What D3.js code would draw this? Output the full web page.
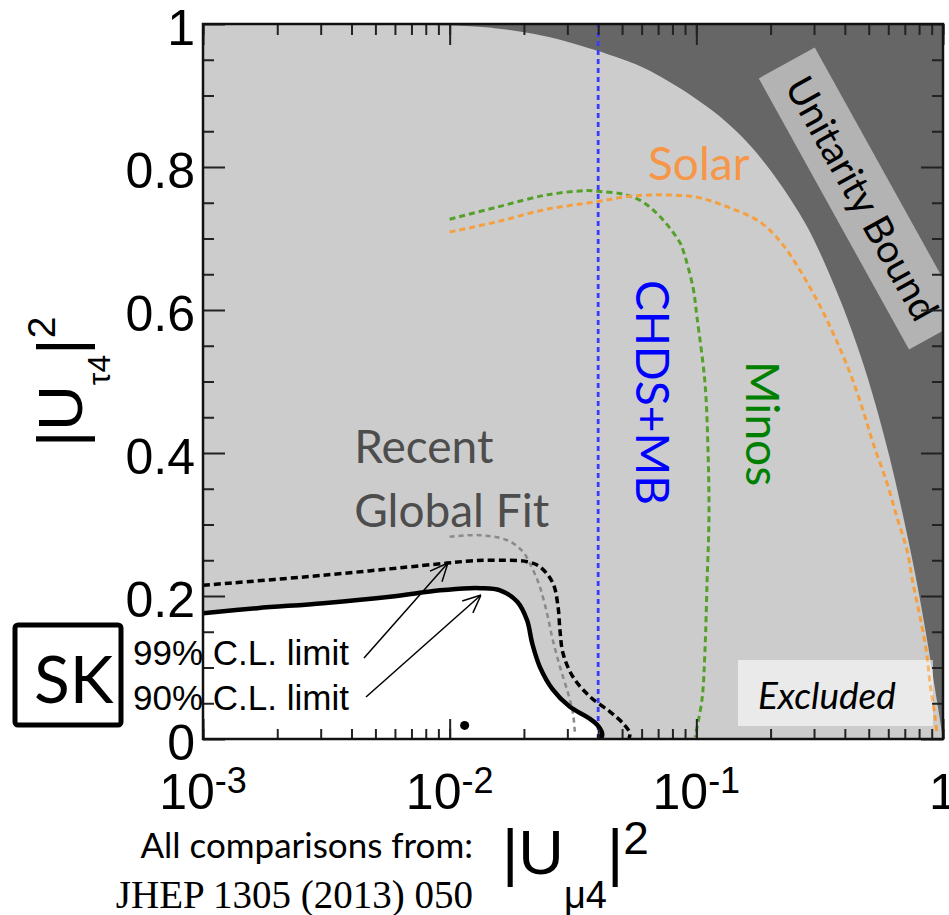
<!DOCTYPE html>
<html>
<head>
<meta charset="utf-8">
<script src="https://cdn.jsdelivr.net/npm/d3@7"></script>
<style>
  body { margin: 0; background: #fff; }
  svg { display: block; }
</style>
</head>
<body>
<script>
// Frame of the plot inside the 949x915 page
var margin = { top: 24, right: 6, bottom: 176, left: 203 };
var W = 949, H = 915;
var width = W - margin.left - margin.right,
  height = H - margin.top - margin.bottom;

// Tick values and labels
var xMajor = [1e-3, 1e-2, 1e-1, 1];
var xExp = ["-3", "-2", "-1", ""];
var yMajor = [0, 0.2, 0.4, 0.6, 0.8, 1];
var yLabels = ["0", "0.2", "0.4", "0.6", "0.8", "1"];
var yMinor = [0.05, 0.1, 0.15, 0.25, 0.3, 0.35, 0.45, 0.5, 0.55, 0.65, 0.7, 0.75, 0.85, 0.9, 0.95];

// Unitarity bound (edge of the dark region)
var ubX = [0.001, 0.01, 0.016, 0.0218, 0.0299, 0.0396, 0.049, 0.0649, 0.121, 0.186, 0.27, 0.311, 0.393, 0.469, 0.53, 0.61, 0.67, 0.749, 0.807, 0.87, 0.928, 0.972, 1.0];
var ubY = [1.0, 1.0, 0.994, 0.987, 0.976, 0.963, 0.952, 0.937, 0.879, 0.814, 0.73, 0.688, 0.607, 0.532, 0.472, 0.393, 0.332, 0.254, 0.196, 0.131, 0.07, 0.027, 0];

// SK 90% C.L. limit (solid)
var sk90X = [0.001, 0.00166, 0.00307, 0.00573, 0.00914, 0.0121, 0.0133, 0.016, 0.0188, 0.0206, 0.0216, 0.0232, 0.0262, 0.0307, 0.036, 0.0396, 0.0415, 0.0412, 0.0404];
var sk90Y = [0.176, 0.183, 0.19, 0.199, 0.208, 0.211, 0.211, 0.208, 0.192, 0.166, 0.134, 0.101, 0.069, 0.045, 0.031, 0.02, 0.008, 0.002, 0.004];

// SK 99% C.L. limit (dashed)
var sk99X = [0.001, 0.00307, 0.00976, 0.0121, 0.0146, 0.0206, 0.0232, 0.0262, 0.0275, 0.028, 0.0288, 0.0316, 0.0371, 0.0447, 0.0504, 0.0538, 0.0533];
var sk99Y = [0.215, 0.229, 0.246, 0.249, 0.25, 0.248, 0.241, 0.218, 0.185, 0.152, 0.12, 0.087, 0.059, 0.038, 0.022, 0.008, 0.001];

// Recent global fit (grey dashed)
var fitX = [0.01, 0.0133, 0.0171, 0.0198, 0.0218, 0.0232, 0.0248, 0.0262, 0.028, 0.0302, 0.0316, 0.0322];
var fitY = [0.283, 0.285, 0.278, 0.262, 0.236, 0.213, 0.176, 0.138, 0.101, 0.064, 0.036, 0.008];

// Minos (green dashed)
var minosX = [0.01, 0.0156, 0.0248, 0.036, 0.0396, 0.0504, 0.0608, 0.0733, 0.0859, 0.0883, 0.0969, 0.1006, 0.1084, 0.1115, 0.1125, 0.1105, 0.1084, 0.1054, 0.0988];
var minosY = [0.727, 0.744, 0.761, 0.767, 0.766, 0.762, 0.751, 0.726, 0.694, 0.684, 0.632, 0.59, 0.498, 0.404, 0.31, 0.218, 0.124, 0.055, 0.003];

// Solar (orange dashed)
var solarX = [0.01, 0.0156, 0.0248, 0.0396, 0.0538, 0.0733, 0.1006, 0.1331, 0.1812, 0.2245, 0.2971, 0.3581, 0.4197, 0.4738, 0.5203, 0.5929, 0.6508, 0.7145, 0.7556, 0.807, 0.855, 0.8858, 0.928, 0.9456];
var solarY = [0.709, 0.7235, 0.741, 0.7515, 0.759, 0.761, 0.7576, 0.7445, 0.723, 0.691, 0.624, 0.568, 0.512, 0.46, 0.414, 0.358, 0.31, 0.264, 0.218, 0.171, 0.124, 0.078, 0.031, 0.006];

// CHDS+MB limit and SK best fit point
var chdsX = 0.04;
var bestFit = [0.0115, 0.019];

function pts(xs, ys) { return xs.map(function (d, i) { return [d, ys[i]]; }); }

var svg = d3.select("body").append("svg").attr("width", W).attr("height", H);
var defs = svg.append("defs");
defs.append("clipPath").attr("id", "plot").append("rect")
  .attr("width", width).attr("height", height);
defs.append("marker").attr("id", "arrow").attr("viewBox", "0 0 20 20")
  .attr("refX", 20).attr("refY", 10).attr("markerWidth", 20).attr("markerHeight", 20)
  .attr("markerUnits", "userSpaceOnUse").attr("orient", "auto")
  .append("path").attr("d", "M2,2 L20,10 L2,18").attr("fill", "none")
  .attr("stroke", "#000").attr("stroke-width", 1.5);

var g = svg.append("g").attr("transform", `translate(${margin.left},${margin.top})`);

var x = d3.scaleLog().domain([1e-3, 1]).range([0, width]);
var y = d3.scaleLinear().domain([0, 1]).range([height, 0]);

var plot = g.append("g").attr("clip-path", "url(#plot)");

// excluded background
plot.append("rect").attr("width", width).attr("height", height).attr("fill", "#cccccc");

// unitarity bound region
var area = d3.area().x(d => x(d[0])).y0(y(1)).y1(d => y(d[1])).curve(d3.curveBasis);
plot.append("path").attr("d", area(pts(ubX, ubY))).attr("fill", "#666666");

// allowed region under the 90% line
var line = d3.line().x(d => x(d[0])).y(d => y(d[1]));
var smooth = d3.line().x(d => x(d[0])).y(d => y(d[1])).curve(d3.curveCatmullRom.alpha(0.5));
var p90 = pts(sk90X, sk90Y);
plot.append("path")
  .attr("d", smooth(p90) + "L" + x(sk90X[sk90X.length - 1]) + "," + y(0) + "L" + x(sk90X[0]) + "," + y(0) + "Z")
  .attr("fill", "#ffffff");

// box behind the Excluded label
plot.append("rect")
  .attr("x", x(0.1475)).attr("y", y(0.1105))
  .attr("width", x(0.911) - x(0.1475)).attr("height", y(0.0182) - y(0.1105))
  .attr("fill", "#fff").attr("fill-opacity", 0.45);

// curves
plot.append("path").attr("d", smooth(pts(fitX, fitY))).attr("fill", "none")
  .attr("stroke", "#8a8a8a").attr("stroke-width", 2.5).attr("stroke-dasharray", "5,4");
plot.append("path").attr("d", smooth(pts(sk99X, sk99Y))).attr("fill", "none")
  .attr("stroke", "#000").attr("stroke-width", 3.5).attr("stroke-dasharray", "7,4");
plot.append("path").attr("d", line([[chdsX, 0], [chdsX, 1]])).attr("fill", "none")
  .attr("stroke", "#3b3bff").attr("stroke-width", 2.8).attr("stroke-dasharray", "5,4");
plot.append("path").attr("d", smooth(pts(minosX, minosY))).attr("fill", "none")
  .attr("stroke", "#55a02a").attr("stroke-width", 3).attr("stroke-dasharray", "6,4");
plot.append("path").attr("d", smooth(pts(solarX, solarY))).attr("fill", "none")
  .attr("stroke", "#f5a040").attr("stroke-width", 3).attr("stroke-dasharray", "6,4");
plot.append("path").attr("d", smooth(p90)).attr("fill", "none")
  .attr("stroke", "#000").attr("stroke-width", 4.5)
  .attr("stroke-linejoin", "round").attr("stroke-linecap", "round");

plot.append("circle").attr("cx", x(bestFit[0])).attr("cy", y(bestFit[1])).attr("r", 4.5).attr("fill", "#000");

// Excluded box veil on top of the lines, and its label
plot.append("rect")
  .attr("x", x(0.1475)).attr("y", y(0.1105))
  .attr("width", x(0.911) - x(0.1475)).attr("height", y(0.0182) - y(0.1105))
  .attr("fill", "#fff").attr("fill-opacity", 0.25);
plot.append("text").attr("x", x(0.1778)).attr("y", y(0.042))
  .style("font", "italic 37px Lato").attr("fill", "#000").text("Excluded");

// Unitarity bound label
var ub = plot.append("g").attr("transform", `translate(${x(0.469)},${y(0.756)}) rotate(61)`);
ub.append("rect").attr("x", -155).attr("y", -32).attr("width", 310).attr("height", 64)
  .attr("fill", "#fff").attr("fill-opacity", 0.5);
ub.append("text").attr("text-anchor", "middle").attr("dy", "0.35em")
  .style("font", "39px Lato").attr("fill", "#000").text("Unitarity Bound");

// ticks, all pointing into the frame
function ticks(axis, tx, ty, vals, size) {
  g.append("g").attr("transform", `translate(${tx},${ty})`)
    .call(axis.tickValues(vals).tickSize(size).tickFormat(""))
    .call(s => s.select(".domain").remove())
    .selectAll("line").attr("stroke", "#222").attr("stroke-width", 2);
}
var xMinor = x.ticks();
ticks(d3.axisBottom(x), 0, 0, xMinor, 11);
ticks(d3.axisBottom(x), 0, 0, xMajor, 21);
ticks(d3.axisTop(x), 0, height, xMinor, 10);
ticks(d3.axisTop(x), 0, height, xMajor, 20);
ticks(d3.axisRight(y), 0, 0, yMinor, 11);
ticks(d3.axisRight(y), 0, 0, yMajor, 22);
ticks(d3.axisLeft(y), width, 0, yMinor, 11);
ticks(d3.axisLeft(y), width, 0, yMajor, 22);

g.append("rect").attr("width", width).attr("height", height)
  .attr("fill", "none").attr("stroke", "#111").attr("stroke-width", 2.5);

// tick labels
g.selectAll(".xl").data(xMajor).join("text").attr("class", "xl")
  .attr("x", d => x(d)).attr("y", height + 70)
  .attr("text-anchor", "middle").style("font", "50px 'Liberation Sans'")
  .each(function (d, i) {
    var t = d3.select(this);
    if (xExp[i]) {
      t.append("tspan").text("10");
      t.append("tspan").attr("dy", -16).attr("font-size", 36).text(xExp[i]);
    } else t.text("1");
  });
g.selectAll(".yl").data(yMajor).join("text").attr("class", "yl")
  .attr("x", -8).attr("y", d => y(d) + 21)
  .attr("text-anchor", "end").style("font", "50px 'Liberation Sans'")
  .text((d, i) => yLabels[i]);

// axis titles
var xt = svg.append("text").attr("x", 502).attr("y", 874).style("font", "63px 'Liberation Sans'");
xt.append("tspan").text("|U");
xt.append("tspan").attr("dy", 34).attr("font-size", 38).text("\u03bc4");
xt.append("tspan").attr("dy", -34).text("|");
xt.append("tspan").attr("dy", -20).attr("font-size", 46).text("2");

var yt = svg.append("text").attr("transform", "translate(82,447) rotate(-90)")
  .style("font", "63px 'Liberation Sans'");
yt.append("tspan").text("|U");
yt.append("tspan").attr("dy", 28).attr("font-size", 32).text("\u03c44");
yt.append("tspan").attr("dy", -28).text("|");
yt.append("tspan").attr("dy", -27).attr("font-size", 39).text("2");

// annotations
g.append("text").attr("x", x(0.0041)).attr("y", y(0.386))
  .style("font", "46px Lato").attr("fill", "#4d4d4d").text("Recent");
g.append("text").attr("x", x(0.0041)).attr("y", y(0.2965))
  .style("font", "46px Lato").attr("fill", "#4d4d4d").text("Global Fit");
g.append("text").attr("x", x(0.0637)).attr("y", y(0.782))
  .style("font", "46px Lato").attr("fill", "#f79646").text("Solar");
g.append("text").attr("transform", `translate(${x(0.0569)},${y(0.642)}) rotate(90)`)
  .style("font", "46px Lato").attr("fill", "#0000ff").text("CHDS+MB");
g.append("text").attr("transform", `translate(${x(0.159)},${y(0.5287)}) rotate(90)`)
  .style("font", "46px Lato").attr("fill", "#008000").text("Minos");

// C.L. labels and arrows
svg.append("text").attr("x", 133).attr("y", 665).style("font", "35px 'Liberation Sans'").text("99% C.L. limit");
svg.append("text").attr("x", 133).attr("y", 710).style("font", "35px 'Liberation Sans'").text("90% C.L. limit");
g.append("path").attr("d", line([[0.004495, 0.1133], [0.00984, 0.2462]]))
  .attr("stroke", "#000").attr("stroke-width", 1.5).attr("marker-end", "url(#arrow)");
g.append("path").attr("d", line([[0.00458, 0.0587], [0.0134, 0.2014]]))
  .attr("stroke", "#000").attr("stroke-width", 1.5).attr("marker-end", "url(#arrow)");

// SK badge
svg.append("rect").attr("x", 15).attr("y", 625).attr("width", 106).attr("height", 100)
  .attr("rx", 3).attr("fill", "#fff").attr("stroke", "#000").attr("stroke-width", 5);
svg.append("text").attr("x", 34).attr("y", 703).style("font", "66px Lato").text("SK");

// source note
svg.append("text").attr("x", 473).attr("y", 858).attr("text-anchor", "end")
  .style("font", "35px Lato").text("All comparisons from:");
svg.append("text").attr("x", 473).attr("y", 908).attr("text-anchor", "end")
  .style("font", "39px 'Liberation Serif'").text("JHEP 1305 (2013) 050");
</script>
</body>
</html>
